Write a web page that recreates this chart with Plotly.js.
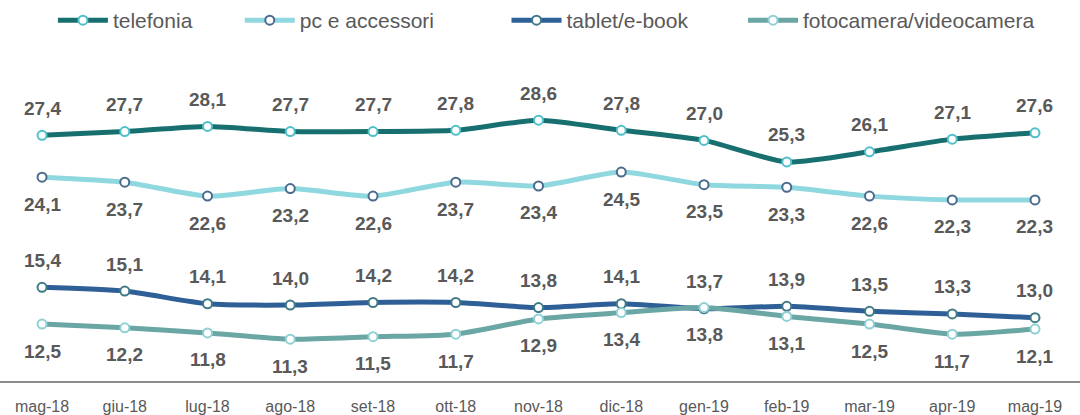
<!DOCTYPE html>
<html>
<head>
<meta charset="utf-8">
<script src="https://cdn.plot.ly/plotly-3.0.1.min.js"></script>
<style>
html,body{margin:0;padding:0;background:#fff;}
#chart{width:1080px;height:415px;}
</style>
</head>
<body>
<div id="chart"></div>
<script>
const months = ["mag-18","giu-18","lug-18","ago-18","set-18","ott-18","nov-18","dic-18","gen-19","feb-19","mar-19","apr-19","mag-19"];
const telefonia = [27.4,27.7,28.1,27.7,27.7,27.8,28.6,27.8,27.0,25.3,26.1,27.1,27.6];
const pcAccessori = [24.1,23.7,22.6,23.2,22.6,23.7,23.4,24.5,23.5,23.3,22.6,22.3,22.3];
const tabletEbook = [15.4,15.1,14.1,14.0,14.2,14.2,13.8,14.1,13.7,13.9,13.5,13.3,13.0];
const fotocamera = [12.5,12.2,11.8,11.3,11.5,11.7,12.9,13.4,13.8,13.1,12.5,11.7,12.1];

const seriesNames = ["telefonia","pc e accessori","tablet/e-book","fotocamera/videocamera"];
const seriesData = [telefonia, pcAccessori, tabletEbook, fotocamera];
const lineColors = ["#17706f","#8fd8df","#2f5f97","#6aa6a4"];
const markerLines = ["#4fc0ca","#4a6a8e","#3f7a86","#8fd0d4"];
const labelSide = [1,-1,1,-1];
const legendIds = ["legend","legend2","legend3","legend4"];
const legendX = [0.049, 0.222, 0.469, 0.688];

const traces = seriesData.map((vals, k) => ({
  type: "scatter",
  mode: "lines+markers",
  name: seriesNames[k],
  legend: legendIds[k],
  x: months,
  y: vals,
  line: {color: lineColors[k], width: 5, shape: "spline", smoothing: 0.6},
  marker: {symbol: "circle", size: 9, color: "#ffffff", line: {color: markerLines[k], width: 2}},
  hoverinfo: "skip"
}));

const fmt = v => v.toFixed(1).replace(".", ",");
const annotations = [];
seriesData.forEach((vals, k) => {
  vals.forEach((v, i) => {
    annotations.push({
      x: months[i], y: v, xref: "x", yref: "y",
      text: fmt(v), showarrow: false,
      yshift: labelSide[k] * 27,
      font: {family: "Liberation Sans, Arial, sans-serif", size: 19, color: "#595959", weight: "bold"}
    });
  });
});

const layout = {
  width: 1080, height: 415,
  margin: {l: 0, r: 0, t: 40, b: 34},
  paper_bgcolor: "#ffffff", plot_bgcolor: "#ffffff",
  showlegend: true,
  xaxis: {
    type: "category", range: [-0.508, 12.544],
    showline: true, linecolor: "#8c8c8c", linewidth: 2,
    showgrid: false, zeroline: false,
    ticks: "outside", ticklen: 10, tickcolor: "rgba(0,0,0,0)",
    tickfont: {family: "Liberation Sans, Arial, sans-serif", size: 16, color: "#595959"},
    fixedrange: true
  },
  yaxis: {
    range: [8, 34.85], visible: false, showgrid: false, zeroline: false, fixedrange: true
  },
  annotations: annotations
};
legendIds.forEach((id, k) => {
  layout[id] = {
    orientation: "h", x: legendX[k], xanchor: "left", y: 1, yref: "container", yanchor: "top",
    font: {family: "Liberation Sans, Arial, sans-serif", size: 21, color: "#595959"},
    itemwidth: 50, bgcolor: "rgba(0,0,0,0)"
  };
});

Plotly.newPlot("chart", traces, layout, {displayModeBar: false, staticPlot: true});
</script>
</body>
</html>
